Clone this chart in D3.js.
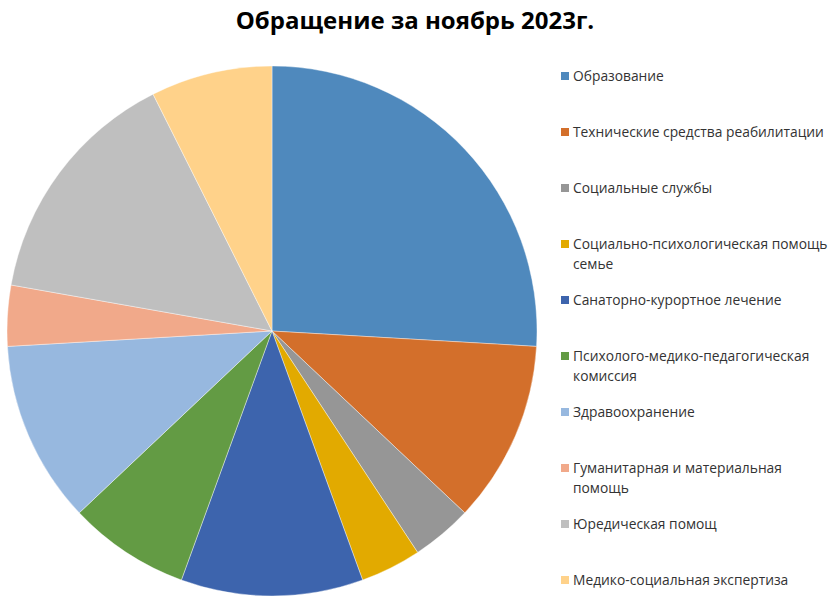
<!DOCTYPE html>
<html>
<head>
<meta charset="utf-8">
<script src="https://cdn.jsdelivr.net/npm/d3@7"></script>
<style>
  body { margin: 0; background: #fff; }
  text { font-family: "Open Sans", "Noto Sans", sans-serif; }
</style>
</head>
<body>
<svg></svg>
<script>
var categories = [
  "Образование",
  "Технические средства реабилитации",
  "Социальные службы",
  "Социально-психологическая помощь семье",
  "Санаторно-курортное лечение",
  "Психолого-медико-педагогическая комиссия",
  "Здравоохранение",
  "Гуманитарная и материальная помощь",
  "Юредическая помощ",
  "Медико-социальная экспертиза"
];
// legend labels as they wrap in the picture
var legendLines = [
  ["Образование"],
  ["Технические средства реабилитации"],
  ["Социальные службы"],
  ["Социально-психологическая помощь", "семье"],
  ["Санаторно-курортное лечение"],
  ["Психолого-медико-педагогическая", "комиссия"],
  ["Здравоохранение"],
  ["Гуманитарная и материальная", "помощь"],
  ["Юредическая помощ"],
  ["Медико-социальная экспертиза"]
];
var values = [7, 3, 1, 1, 3, 2, 3, 1, 4, 2];
var colors = ["#4f89bd", "#d36f2b", "#969696", "#e2aa00", "#3d64ad",
              "#639b44", "#97b8df", "#f1a98a", "#bfbfbf", "#ffd28a"];

var svgWidth = 830, svgHeight = 611;
var cx = 272, cy = 331, radius = 265;

var svg = d3.select("svg")
    .attr("width", svgWidth)
    .attr("height", svgHeight);

svg.append("text")
    .attr("x", 415)
    .attr("y", 29)
    .attr("text-anchor", "middle")
    .attr("font-size", 24)
    .attr("font-weight", "bold")
    .attr("fill", "#000")
    .text("Обращение за ноябрь 2023г.");

var pie = d3.pie().sort(null).value(function(d) { return d; });
var arc = d3.arc().innerRadius(0).outerRadius(radius);

var color = d3.scaleOrdinal().domain(categories).range(colors);

var g = svg.append("g")
    .attr("transform", "translate(" + cx + "," + cy + ")");

g.selectAll("path")
    .data(pie(values))
    .enter().append("path")
    .attr("d", arc)
    .attr("fill", function(d, i) { return color(categories[i]); })
    .attr("stroke", "#fff")
    .attr("stroke-width", 0.4);

// legend
var legendY = d3.scalePoint().domain(categories).range([76, 580]);

var item = svg.append("g").selectAll("g")
    .data(categories)
    .enter().append("g")
    .attr("transform", function(d) { return "translate(561," + legendY(d) + ")"; });

item.append("rect")
    .attr("x", 0)
    .attr("y", -4)
    .attr("width", 8)
    .attr("height", 8)
    .attr("fill", function(d) { return color(d); });

item.append("text")
    .attr("x", 12)
    .attr("y", 5)
    .attr("font-size", 13.8)
    .attr("fill", "#333")
    .selectAll("tspan")
    .data(function(d, i) { return legendLines[i]; })
    .enter().append("tspan")
    .attr("x", 12)
    .attr("dy", function(d, j) { return j === 0 ? 0 : 20; })
    .text(function(d) { return d; });
</script>
</body>
</html>
